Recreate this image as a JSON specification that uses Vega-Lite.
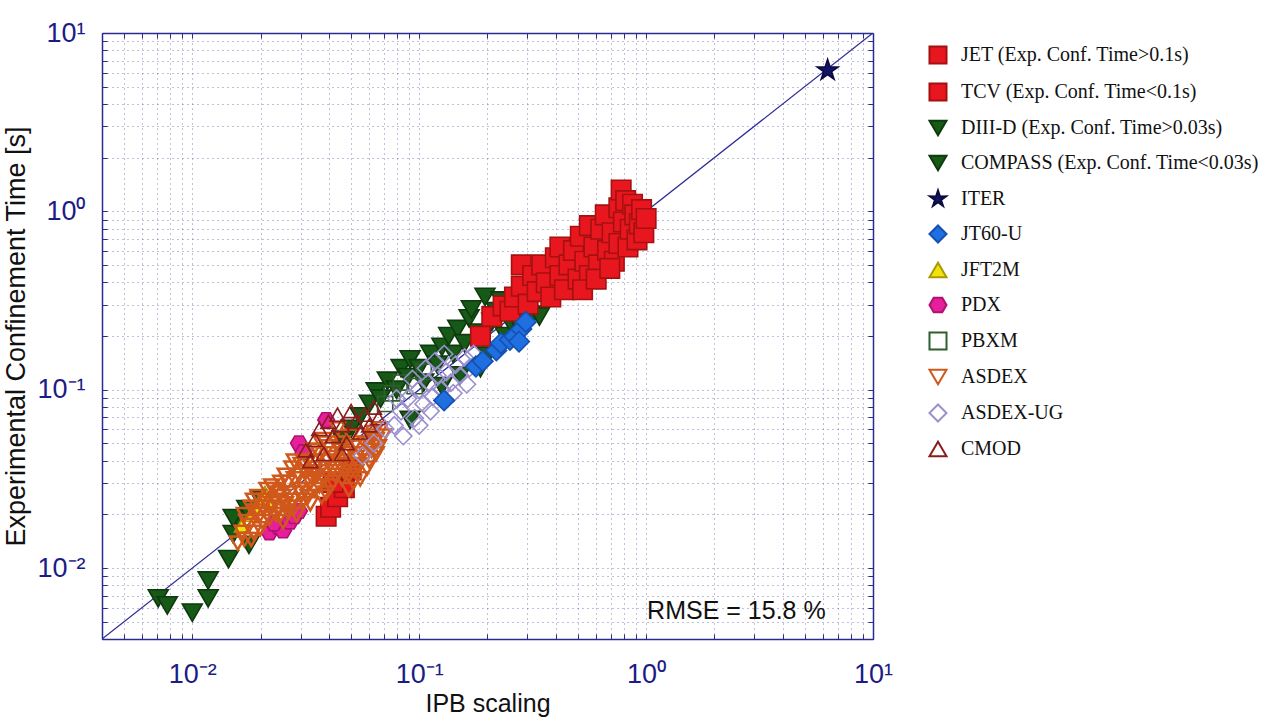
{
  "$schema": "https://vega.github.io/schema/vega-lite/v6.json",
  "width": 771,
  "height": 606,
  "autosize": {"type": "none"},
  "padding": {"left": 102, "top": 33, "right": 398, "bottom": 83},
  "background": "white",
  "config": {"view": {"stroke": null}, "font": "Liberation Sans"},
  "datasets": {
    "diag": [{"x": 0.004, "y": 0.004}, {"x": 10, "y": 10}],
    "note": [{"x": 2.5, "y": 0.00575, "label": "RMSE = 15.8 %"}],
    "pts": [
      {"device": "DIII-D (Exp. Conf. Time>0.03s)", "x": 0.0501, "y": 0.0603},
      {"device": "DIII-D (Exp. Conf. Time>0.03s)", "x": 0.0457, "y": 0.0525},
      {"device": "DIII-D (Exp. Conf. Time>0.03s)", "x": 0.055, "y": 0.0708},
      {"device": "DIII-D (Exp. Conf. Time>0.03s)", "x": 0.0603, "y": 0.0832},
      {"device": "DIII-D (Exp. Conf. Time>0.03s)", "x": 0.0646, "y": 0.0977},
      {"device": "DIII-D (Exp. Conf. Time>0.03s)", "x": 0.0676, "y": 0.0891},
      {"device": "DIII-D (Exp. Conf. Time>0.03s)", "x": 0.0724, "y": 0.1122},
      {"device": "DIII-D (Exp. Conf. Time>0.03s)", "x": 0.0794, "y": 0.1},
      {"device": "DIII-D (Exp. Conf. Time>0.03s)", "x": 0.0832, "y": 0.1318},
      {"device": "DIII-D (Exp. Conf. Time>0.03s)", "x": 0.0891, "y": 0.1175},
      {"device": "DIII-D (Exp. Conf. Time>0.03s)", "x": 0.0912, "y": 0.1479},
      {"device": "DIII-D (Exp. Conf. Time>0.03s)", "x": 0.1, "y": 0.1318},
      {"device": "DIII-D (Exp. Conf. Time>0.03s)", "x": 0.1047, "y": 0.1096},
      {"device": "DIII-D (Exp. Conf. Time>0.03s)", "x": 0.1122, "y": 0.1585},
      {"device": "DIII-D (Exp. Conf. Time>0.03s)", "x": 0.1202, "y": 0.138},
      {"device": "DIII-D (Exp. Conf. Time>0.03s)", "x": 0.1259, "y": 0.1738},
      {"device": "DIII-D (Exp. Conf. Time>0.03s)", "x": 0.1349, "y": 0.1995},
      {"device": "DIII-D (Exp. Conf. Time>0.03s)", "x": 0.1413, "y": 0.1585},
      {"device": "DIII-D (Exp. Conf. Time>0.03s)", "x": 0.1479, "y": 0.2188},
      {"device": "DIII-D (Exp. Conf. Time>0.03s)", "x": 0.1585, "y": 0.182},
      {"device": "DIII-D (Exp. Conf. Time>0.03s)", "x": 0.166, "y": 0.2512},
      {"device": "DIII-D (Exp. Conf. Time>0.03s)", "x": 0.1698, "y": 0.2818},
      {"device": "DIII-D (Exp. Conf. Time>0.03s)", "x": 0.182, "y": 0.2089},
      {"device": "DIII-D (Exp. Conf. Time>0.03s)", "x": 0.195, "y": 0.3311},
      {"device": "DIII-D (Exp. Conf. Time>0.03s)", "x": 0.1995, "y": 0.1549},
      {"device": "DIII-D (Exp. Conf. Time>0.03s)", "x": 0.2089, "y": 0.2399},
      {"device": "DIII-D (Exp. Conf. Time>0.03s)", "x": 0.2188, "y": 0.2754},
      {"device": "DIII-D (Exp. Conf. Time>0.03s)", "x": 0.2291, "y": 0.3162},
      {"device": "DIII-D (Exp. Conf. Time>0.03s)", "x": 0.2399, "y": 0.1995},
      {"device": "DIII-D (Exp. Conf. Time>0.03s)", "x": 0.2512, "y": 0.2399},
      {"device": "DIII-D (Exp. Conf. Time>0.03s)", "x": 0.2692, "y": 0.2512},
      {"device": "DIII-D (Exp. Conf. Time>0.03s)", "x": 0.2818, "y": 0.2188},
      {"device": "DIII-D (Exp. Conf. Time>0.03s)", "x": 0.302, "y": 0.2399},
      {"device": "DIII-D (Exp. Conf. Time>0.03s)", "x": 0.3162, "y": 0.263},
      {"device": "DIII-D (Exp. Conf. Time>0.03s)", "x": 0.3388, "y": 0.257},
      {"device": "DIII-D (Exp. Conf. Time>0.03s)", "x": 0.1862, "y": 0.1318},
      {"device": "DIII-D (Exp. Conf. Time>0.03s)", "x": 0.0912, "y": 0.0676},
      {"device": "DIII-D (Exp. Conf. Time>0.03s)", "x": 0.1259, "y": 0.1047},
      {"device": "DIII-D (Exp. Conf. Time>0.03s)", "x": 0.1514, "y": 0.1202},
      {"device": "COMPASS (Exp. Conf. Time<0.03s)", "x": 0.00708, "y": 0.00676},
      {"device": "COMPASS (Exp. Conf. Time<0.03s)", "x": 0.00776, "y": 0.00617},
      {"device": "COMPASS (Exp. Conf. Time<0.03s)", "x": 0.01, "y": 0.00562},
      {"device": "COMPASS (Exp. Conf. Time<0.03s)", "x": 0.01175, "y": 0.00851},
      {"device": "COMPASS (Exp. Conf. Time<0.03s)", "x": 0.01175, "y": 0.00676},
      {"device": "COMPASS (Exp. Conf. Time<0.03s)", "x": 0.01445, "y": 0.01122},
      {"device": "COMPASS (Exp. Conf. Time<0.03s)", "x": 0.01514, "y": 0.01549},
      {"device": "COMPASS (Exp. Conf. Time<0.03s)", "x": 0.01778, "y": 0.01349},
      {"device": "COMPASS (Exp. Conf. Time<0.03s)", "x": 0.01622, "y": 0.0182},
      {"device": "COMPASS (Exp. Conf. Time<0.03s)", "x": 0.01514, "y": 0.01905},
      {"device": "COMPASS (Exp. Conf. Time<0.03s)", "x": 0.01738, "y": 0.02138},
      {"device": "COMPASS (Exp. Conf. Time<0.03s)", "x": 0.01995, "y": 0.02399},
      {"device": "JET (Exp. Conf. Time>0.1s)", "x": 0.1862, "y": 0.1995},
      {"device": "JET (Exp. Conf. Time>0.1s)", "x": 0.2089, "y": 0.257},
      {"device": "JET (Exp. Conf. Time>0.1s)", "x": 0.2344, "y": 0.2951},
      {"device": "JET (Exp. Conf. Time>0.1s)", "x": 0.2512, "y": 0.2754},
      {"device": "JET (Exp. Conf. Time>0.1s)", "x": 0.263, "y": 0.3311},
      {"device": "JET (Exp. Conf. Time>0.1s)", "x": 0.2818, "y": 0.5012},
      {"device": "JET (Exp. Conf. Time>0.1s)", "x": 0.2818, "y": 0.3802},
      {"device": "JET (Exp. Conf. Time>0.1s)", "x": 0.302, "y": 0.302},
      {"device": "JET (Exp. Conf. Time>0.1s)", "x": 0.3162, "y": 0.4365},
      {"device": "JET (Exp. Conf. Time>0.1s)", "x": 0.3311, "y": 0.3548},
      {"device": "JET (Exp. Conf. Time>0.1s)", "x": 0.3467, "y": 0.5012},
      {"device": "JET (Exp. Conf. Time>0.1s)", "x": 0.3631, "y": 0.3981},
      {"device": "JET (Exp. Conf. Time>0.1s)", "x": 0.3802, "y": 0.3311},
      {"device": "JET (Exp. Conf. Time>0.1s)", "x": 0.3981, "y": 0.5495},
      {"device": "JET (Exp. Conf. Time>0.1s)", "x": 0.4169, "y": 0.631},
      {"device": "JET (Exp. Conf. Time>0.1s)", "x": 0.4169, "y": 0.4365},
      {"device": "JET (Exp. Conf. Time>0.1s)", "x": 0.4365, "y": 0.3631},
      {"device": "JET (Exp. Conf. Time>0.1s)", "x": 0.4571, "y": 0.5012},
      {"device": "JET (Exp. Conf. Time>0.1s)", "x": 0.4786, "y": 0.6026},
      {"device": "JET (Exp. Conf. Time>0.1s)", "x": 0.5012, "y": 0.4169},
      {"device": "JET (Exp. Conf. Time>0.1s)", "x": 0.5129, "y": 0.7244},
      {"device": "JET (Exp. Conf. Time>0.1s)", "x": 0.537, "y": 0.5248},
      {"device": "JET (Exp. Conf. Time>0.1s)", "x": 0.5623, "y": 0.8318},
      {"device": "JET (Exp. Conf. Time>0.1s)", "x": 0.5623, "y": 0.4365},
      {"device": "JET (Exp. Conf. Time>0.1s)", "x": 0.5888, "y": 0.631},
      {"device": "JET (Exp. Conf. Time>0.1s)", "x": 0.6166, "y": 0.5012},
      {"device": "JET (Exp. Conf. Time>0.1s)", "x": 0.631, "y": 0.7943},
      {"device": "JET (Exp. Conf. Time>0.1s)", "x": 0.6607, "y": 0.955},
      {"device": "JET (Exp. Conf. Time>0.1s)", "x": 0.6761, "y": 0.6026},
      {"device": "JET (Exp. Conf. Time>0.1s)", "x": 0.7079, "y": 0.7586},
      {"device": "JET (Exp. Conf. Time>0.1s)", "x": 0.7244, "y": 0.5248},
      {"device": "JET (Exp. Conf. Time>0.1s)", "x": 0.7586, "y": 1.047},
      {"device": "JET (Exp. Conf. Time>0.1s)", "x": 0.7586, "y": 0.6607},
      {"device": "JET (Exp. Conf. Time>0.1s)", "x": 0.7762, "y": 1.318},
      {"device": "JET (Exp. Conf. Time>0.1s)", "x": 0.7943, "y": 0.871},
      {"device": "JET (Exp. Conf. Time>0.1s)", "x": 0.8128, "y": 1.148},
      {"device": "JET (Exp. Conf. Time>0.1s)", "x": 0.8318, "y": 0.631},
      {"device": "JET (Exp. Conf. Time>0.1s)", "x": 0.8511, "y": 0.7943},
      {"device": "JET (Exp. Conf. Time>0.1s)", "x": 0.871, "y": 1.096},
      {"device": "JET (Exp. Conf. Time>0.1s)", "x": 0.8913, "y": 0.955},
      {"device": "JET (Exp. Conf. Time>0.1s)", "x": 0.912, "y": 0.6918},
      {"device": "JET (Exp. Conf. Time>0.1s)", "x": 0.9333, "y": 0.8511},
      {"device": "JET (Exp. Conf. Time>0.1s)", "x": 0.955, "y": 1.023},
      {"device": "JET (Exp. Conf. Time>0.1s)", "x": 0.9772, "y": 0.7586},
      {"device": "JET (Exp. Conf. Time>0.1s)", "x": 1.0, "y": 0.912},
      {"device": "JET (Exp. Conf. Time>0.1s)", "x": 0.5248, "y": 0.3631},
      {"device": "JET (Exp. Conf. Time>0.1s)", "x": 0.6026, "y": 0.4169},
      {"device": "JET (Exp. Conf. Time>0.1s)", "x": 0.6918, "y": 0.4786},
      {"device": "TCV (Exp. Conf. Time<0.1s)", "x": 0.0389, "y": 0.0195},
      {"device": "TCV (Exp. Conf. Time<0.1s)", "x": 0.0407, "y": 0.0219},
      {"device": "TCV (Exp. Conf. Time<0.1s)", "x": 0.0437, "y": 0.0251},
      {"device": "TCV (Exp. Conf. Time<0.1s)", "x": 0.0468, "y": 0.0282},
      {"device": "TCV (Exp. Conf. Time<0.1s)", "x": 0.0417, "y": 0.0302},
      {"device": "TCV (Exp. Conf. Time<0.1s)", "x": 0.0501, "y": 0.0355},
      {"device": "PDX", "x": 0.02188, "y": 0.01585},
      {"device": "PDX", "x": 0.02399, "y": 0.01698},
      {"device": "PDX", "x": 0.02512, "y": 0.01622},
      {"device": "PDX", "x": 0.02692, "y": 0.0182},
      {"device": "PDX", "x": 0.02818, "y": 0.0195},
      {"device": "PDX", "x": 0.02951, "y": 0.02089},
      {"device": "PDX", "x": 0.02951, "y": 0.05012},
      {"device": "PDX", "x": 0.0309, "y": 0.04467},
      {"device": "PDX", "x": 0.0389, "y": 0.06761},
      {"device": "PDX", "x": 0.02291, "y": 0.01778},
      {"device": "JFT2M", "x": 0.0166, "y": 0.01738},
      {"device": "JFT2M", "x": 0.0182, "y": 0.01995},
      {"device": "JFT2M", "x": 0.01905, "y": 0.02188},
      {"device": "JFT2M", "x": 0.01995, "y": 0.02399},
      {"device": "JFT2M", "x": 0.02089, "y": 0.0263},
      {"device": "JFT2M", "x": 0.02188, "y": 0.02399},
      {"device": "PBXM", "x": 0.07586, "y": 0.0955},
      {"device": "PBXM", "x": 0.08318, "y": 0.1096},
      {"device": "PBXM", "x": 0.0955, "y": 0.1047},
      {"device": "PBXM", "x": 0.1047, "y": 0.1259},
      {"device": "PBXM", "x": 0.07079, "y": 0.08318},
      {"device": "ASDEX", "x": 0.01585, "y": 0.0138},
      {"device": "ASDEX", "x": 0.0166, "y": 0.01585},
      {"device": "ASDEX", "x": 0.01738, "y": 0.0182},
      {"device": "ASDEX", "x": 0.0182, "y": 0.01445},
      {"device": "ASDEX", "x": 0.01905, "y": 0.02089},
      {"device": "ASDEX", "x": 0.01995, "y": 0.0166},
      {"device": "ASDEX", "x": 0.02089, "y": 0.02399},
      {"device": "ASDEX", "x": 0.02188, "y": 0.01905},
      {"device": "ASDEX", "x": 0.02291, "y": 0.02754},
      {"device": "ASDEX", "x": 0.02399, "y": 0.02188},
      {"device": "ASDEX", "x": 0.02512, "y": 0.0182},
      {"device": "ASDEX", "x": 0.0263, "y": 0.0302},
      {"device": "ASDEX", "x": 0.02754, "y": 0.02399},
      {"device": "ASDEX", "x": 0.02884, "y": 0.01995},
      {"device": "ASDEX", "x": 0.0302, "y": 0.03802},
      {"device": "ASDEX", "x": 0.03162, "y": 0.02754},
      {"device": "ASDEX", "x": 0.03311, "y": 0.02291},
      {"device": "ASDEX", "x": 0.03388, "y": 0.04571},
      {"device": "ASDEX", "x": 0.03548, "y": 0.03311},
      {"device": "ASDEX", "x": 0.03715, "y": 0.02512},
      {"device": "ASDEX", "x": 0.03802, "y": 0.05248},
      {"device": "ASDEX", "x": 0.03981, "y": 0.03981},
      {"device": "ASDEX", "x": 0.04169, "y": 0.0302},
      {"device": "ASDEX", "x": 0.04365, "y": 0.06026},
      {"device": "ASDEX", "x": 0.04467, "y": 0.04571},
      {"device": "ASDEX", "x": 0.04677, "y": 0.03467},
      {"device": "ASDEX", "x": 0.04898, "y": 0.02754},
      {"device": "ASDEX", "x": 0.05012, "y": 0.05495},
      {"device": "ASDEX", "x": 0.05248, "y": 0.04169},
      {"device": "ASDEX", "x": 0.05495, "y": 0.03162},
      {"device": "ASDEX", "x": 0.05754, "y": 0.05012},
      {"device": "ASDEX", "x": 0.06026, "y": 0.03981},
      {"device": "ASDEX", "x": 0.0631, "y": 0.05754},
      {"device": "ASDEX", "x": 0.06607, "y": 0.04786},
      {"device": "ASDEX", "x": 0.06761, "y": 0.06026},
      {"device": "ASDEX", "x": 0.02512, "y": 0.02512},
      {"device": "ASDEX", "x": 0.02818, "y": 0.03162},
      {"device": "ASDEX", "x": 0.03162, "y": 0.03467},
      {"device": "ASDEX", "x": 0.03548, "y": 0.03981},
      {"device": "ASDEX", "x": 0.03981, "y": 0.04786},
      {"device": "ASDEX", "x": 0.04467, "y": 0.03802},
      {"device": "ASDEX", "x": 0.02239, "y": 0.02291},
      {"device": "ASDEX", "x": 0.01995, "y": 0.01995},
      {"device": "ASDEX", "x": 0.01778, "y": 0.01738},
      {"device": "ASDEX", "x": 0.0263, "y": 0.02089},
      {"device": "ASDEX", "x": 0.03311, "y": 0.0302},
      {"device": "ASDEX", "x": 0.04169, "y": 0.03631},
      {"device": "ASDEX", "x": 0.05248, "y": 0.03467},
      {"device": "ASDEX", "x": 0.05623, "y": 0.04365},
      {"device": "ASDEX", "x": 0.02399, "y": 0.0263},
      {"device": "ASDEX", "x": 0.0302, "y": 0.0263},
      {"device": "ASDEX", "x": 0.03802, "y": 0.03162},
      {"device": "ASDEX", "x": 0.04786, "y": 0.04365},
      {"device": "ASDEX", "x": 0.06026, "y": 0.05012},
      {"device": "ASDEX", "x": 0.03467, "y": 0.02754},
      {"device": "ASDEX", "x": 0.02754, "y": 0.03631},
      {"device": "ASDEX", "x": 0.02188, "y": 0.02188},
      {"device": "ASDEX", "x": 0.04571, "y": 0.03162},
      {"device": "ASDEX", "x": 0.03631, "y": 0.04365},
      {"device": "ASDEX", "x": 0.01698, "y": 0.01995},
      {"device": "ASDEX", "x": 0.01862, "y": 0.02399},
      {"device": "ASDEX", "x": 0.02042, "y": 0.0182},
      {"device": "ASDEX", "x": 0.02138, "y": 0.02754},
      {"device": "ASDEX", "x": 0.02344, "y": 0.01995},
      {"device": "ASDEX", "x": 0.02455, "y": 0.0302},
      {"device": "ASDEX", "x": 0.02692, "y": 0.0263},
      {"device": "ASDEX", "x": 0.02818, "y": 0.02188},
      {"device": "ASDEX", "x": 0.02951, "y": 0.03311},
      {"device": "ASDEX", "x": 0.0309, "y": 0.02399},
      {"device": "ASDEX", "x": 0.03236, "y": 0.03981},
      {"device": "ASDEX", "x": 0.03388, "y": 0.03162},
      {"device": "ASDEX", "x": 0.03631, "y": 0.02884},
      {"device": "ASDEX", "x": 0.03715, "y": 0.03631},
      {"device": "ASDEX", "x": 0.0389, "y": 0.0263},
      {"device": "ASDEX", "x": 0.04074, "y": 0.04365},
      {"device": "ASDEX", "x": 0.04266, "y": 0.03311},
      {"device": "ASDEX", "x": 0.04571, "y": 0.05012},
      {"device": "ASDEX", "x": 0.04786, "y": 0.038},
      {"device": "ASDEX", "x": 0.05129, "y": 0.0302},
      {"device": "ASDEX", "x": 0.0537, "y": 0.04786},
      {"device": "ASDEX", "x": 0.05888, "y": 0.03631},
      {"device": "ASDEX", "x": 0.06166, "y": 0.04571},
      {"device": "ASDEX", "x": 0.06457, "y": 0.05248},
      {"device": "ASDEX", "x": 0.06918, "y": 0.05495},
      {"device": "ASDEX", "x": 0.0257, "y": 0.02291},
      {"device": "ASDEX", "x": 0.03467, "y": 0.03631},
      {"device": "ASDEX", "x": 0.04365, "y": 0.05012},
      {"device": "ASDEX", "x": 0.0182, "y": 0.02188},
      {"device": "ASDEX", "x": 0.0195, "y": 0.02512},
      {"device": "ASDEX", "x": 0.02042, "y": 0.02188},
      {"device": "ASDEX", "x": 0.02239, "y": 0.02884},
      {"device": "ASDEX", "x": 0.02344, "y": 0.02399},
      {"device": "ASDEX", "x": 0.02455, "y": 0.01995},
      {"device": "ASDEX", "x": 0.0257, "y": 0.03311},
      {"device": "ASDEX", "x": 0.02692, "y": 0.02188},
      {"device": "ASDEX", "x": 0.02951, "y": 0.02754},
      {"device": "ASDEX", "x": 0.0309, "y": 0.03981},
      {"device": "ASDEX", "x": 0.03236, "y": 0.02512},
      {"device": "ASDEX", "x": 0.03388, "y": 0.03467},
      {"device": "ASDEX", "x": 0.03548, "y": 0.04571},
      {"device": "ASDEX", "x": 0.0389, "y": 0.03467},
      {"device": "ASDEX", "x": 0.04074, "y": 0.02884},
      {"device": "ASDEX", "x": 0.04266, "y": 0.04169},
      {"device": "ASDEX", "x": 0.04677, "y": 0.03981},
      {"device": "ASDEX", "x": 0.04898, "y": 0.03311},
      {"device": "ASDEX", "x": 0.05129, "y": 0.04786},
      {"device": "ASDEX", "x": 0.0537, "y": 0.038},
      {"device": "ASDEX", "x": 0.05888, "y": 0.04365},
      {"device": "ASDEX", "x": 0.06166, "y": 0.05495},
      {"device": "ASDEX", "x": 0.06457, "y": 0.04365},
      {"device": "ASDEX", "x": 0.02818, "y": 0.03981},
      {"device": "ASDEX", "x": 0.03715, "y": 0.05012},
      {"device": "ASDEX", "x": 0.02138, "y": 0.01995},
      {"device": "ASDEX", "x": 0.01862, "y": 0.01585},
      {"device": "ASDEX", "x": 0.01698, "y": 0.01445},
      {"device": "CMOD", "x": 0.03162, "y": 0.04571},
      {"device": "CMOD", "x": 0.03467, "y": 0.05248},
      {"device": "CMOD", "x": 0.03631, "y": 0.06026},
      {"device": "CMOD", "x": 0.03802, "y": 0.04365},
      {"device": "CMOD", "x": 0.03981, "y": 0.06607},
      {"device": "CMOD", "x": 0.04169, "y": 0.05495},
      {"device": "CMOD", "x": 0.04365, "y": 0.07244},
      {"device": "CMOD", "x": 0.04571, "y": 0.0631},
      {"device": "CMOD", "x": 0.04786, "y": 0.05012},
      {"device": "CMOD", "x": 0.05012, "y": 0.07586},
      {"device": "CMOD", "x": 0.05248, "y": 0.06607},
      {"device": "CMOD", "x": 0.05495, "y": 0.05754},
      {"device": "CMOD", "x": 0.05754, "y": 0.07244},
      {"device": "CMOD", "x": 0.06026, "y": 0.0631},
      {"device": "CMOD", "x": 0.0631, "y": 0.07943},
      {"device": "CMOD", "x": 0.06607, "y": 0.06918},
      {"device": "CMOD", "x": 0.03311, "y": 0.03981},
      {"device": "CMOD", "x": 0.04571, "y": 0.04365},
      {"device": "ASDEX-UG", "x": 0.05623, "y": 0.04266},
      {"device": "ASDEX-UG", "x": 0.0631, "y": 0.05012},
      {"device": "ASDEX-UG", "x": 0.07079, "y": 0.06026},
      {"device": "ASDEX-UG", "x": 0.08511, "y": 0.05495},
      {"device": "ASDEX-UG", "x": 0.07762, "y": 0.0631},
      {"device": "ASDEX-UG", "x": 0.08318, "y": 0.07586},
      {"device": "ASDEX-UG", "x": 0.08913, "y": 0.08913},
      {"device": "ASDEX-UG", "x": 0.0955, "y": 0.06918},
      {"device": "ASDEX-UG", "x": 0.1, "y": 0.1},
      {"device": "ASDEX-UG", "x": 0.1047, "y": 0.08318},
      {"device": "ASDEX-UG", "x": 0.1096, "y": 0.1096},
      {"device": "ASDEX-UG", "x": 0.1148, "y": 0.0912},
      {"device": "ASDEX-UG", "x": 0.1202, "y": 0.1202},
      {"device": "ASDEX-UG", "x": 0.1259, "y": 0.1},
      {"device": "ASDEX-UG", "x": 0.1318, "y": 0.1259},
      {"device": "ASDEX-UG", "x": 0.138, "y": 0.1096},
      {"device": "ASDEX-UG", "x": 0.1445, "y": 0.138},
      {"device": "ASDEX-UG", "x": 0.1514, "y": 0.1202},
      {"device": "ASDEX-UG", "x": 0.1585, "y": 0.1514},
      {"device": "ASDEX-UG", "x": 0.166, "y": 0.1318},
      {"device": "ASDEX-UG", "x": 0.1738, "y": 0.1585},
      {"device": "ASDEX-UG", "x": 0.09333, "y": 0.1148},
      {"device": "ASDEX-UG", "x": 0.1072, "y": 0.1318},
      {"device": "ASDEX-UG", "x": 0.1175, "y": 0.1445},
      {"device": "ASDEX-UG", "x": 0.1288, "y": 0.1585},
      {"device": "ASDEX-UG", "x": 0.07943, "y": 0.08913},
      {"device": "ASDEX-UG", "x": 0.1622, "y": 0.1072},
      {"device": "ASDEX-UG", "x": 0.1413, "y": 0.0955},
      {"device": "ASDEX-UG", "x": 0.1122, "y": 0.07586},
      {"device": "ASDEX-UG", "x": 0.1, "y": 0.0631},
      {"device": "JT60-U", "x": 0.1288, "y": 0.0871},
      {"device": "JT60-U", "x": 0.1778, "y": 0.1349},
      {"device": "JT60-U", "x": 0.1905, "y": 0.1445},
      {"device": "JT60-U", "x": 0.2188, "y": 0.166},
      {"device": "JT60-U", "x": 0.2291, "y": 0.182},
      {"device": "JT60-U", "x": 0.2512, "y": 0.1905},
      {"device": "JT60-U", "x": 0.263, "y": 0.1995},
      {"device": "JT60-U", "x": 0.2818, "y": 0.2188},
      {"device": "JT60-U", "x": 0.2951, "y": 0.2399},
      {"device": "JT60-U", "x": 0.2754, "y": 0.1862},
      {"device": "ITER", "x": 6.31, "y": 6.17}
    ]
  },
  "resolve": {"axis": {"x": "independent", "y": "independent"}},
  "layer": [
    {
      "data": {"name": "diag"},
      "mark": {"type": "line", "color": "#2e2e9a", "strokeWidth": 1.3, "clip": true},
      "encoding": {
        "x": {
          "field": "x", "type": "quantitative",
          "scale": {"type": "log", "domain": [0.004, 10], "nice": false},
          "axis": {
            "orient": "bottom",
            "values": [0.004, 0.005, 0.006, 0.007, 0.008, 0.009, 0.01, 0.02, 0.03, 0.04, 0.05, 0.06, 0.07, 0.08, 0.09, 0.1, 0.2, 0.3, 0.4, 0.5, 0.6, 0.7, 0.8, 0.9, 1, 2, 3, 4, 5, 6, 7, 8, 9, 10],
            "labelExpr": "datum.value==0.01?'10⁻²':datum.value==0.1?'10⁻¹':datum.value==1?'10⁰':datum.value==10?'10¹':''",
            "labelOverlap": false, "labelFlush": false,
            "labelFont": "Liberation Sans", "labelFontSize": 27, "labelColor": "#1c1c86", "labelPadding": 27,
            "grid": true, "gridDash": [1, 4], "gridColor": "#4a4a9a", "gridOpacity": 0.7,
            "domainColor": "#2b2b8f", "domainWidth": 1.5, "tickColor": "#2b2b8f", "tickSize": -5,
            "title": "IPB scaling", "titleFont": "Liberation Sans", "titleFontSize": 25, "titleFontWeight": "normal", "titleColor": "#111", "titlePadding": 4
          }
        },
        "y": {
          "field": "y", "type": "quantitative",
          "scale": {"type": "log", "domain": [0.004, 10], "nice": false},
          "axis": {
            "orient": "left",
            "values": [0.004, 0.005, 0.006, 0.007, 0.008, 0.009, 0.01, 0.02, 0.03, 0.04, 0.05, 0.06, 0.07, 0.08, 0.09, 0.1, 0.2, 0.3, 0.4, 0.5, 0.6, 0.7, 0.8, 0.9, 1, 2, 3, 4, 5, 6, 7, 8, 9, 10],
            "labelExpr": "datum.value==0.01?'10⁻²':datum.value==0.1?'10⁻¹':datum.value==1?'10⁰':datum.value==10?'10¹':''",
            "labelOverlap": false, "labelFlush": false,
            "labelFont": "Liberation Sans", "labelFontSize": 27, "labelColor": "#1c1c86", "labelPadding": 22,
            "grid": true, "gridDash": [1, 4], "gridColor": "#4a4a9a", "gridOpacity": 0.7,
            "domainColor": "#2b2b8f", "domainWidth": 1.5, "tickColor": "#2b2b8f", "tickSize": -5,
            "title": "Experimental Confinement Time [s]", "titleFont": "Liberation Sans", "titleFontSize": 27, "titleFontWeight": "normal", "titleColor": "#111", "titlePadding": 6
          }
        }
      }
    },
    {
      "data": {"name": "pts"},
      "mark": {"type": "point", "filled": true, "opacity": 1},
      "encoding": {
        "x": {
          "field": "x", "type": "quantitative",
          "scale": {"type": "log", "domain": [0.004, 10], "nice": false},
          "axis": {"orient": "top", "labels": false, "grid": false, "title": null,
            "values": [0.004, 0.005, 0.006, 0.007, 0.008, 0.009, 0.01, 0.02, 0.03, 0.04, 0.05, 0.06, 0.07, 0.08, 0.09, 0.1, 0.2, 0.3, 0.4, 0.5, 0.6, 0.7, 0.8, 0.9, 1, 2, 3, 4, 5, 6, 7, 8, 9, 10],
            "domainColor": "#2b2b8f", "domainWidth": 1.5, "tickColor": "#2b2b8f", "tickSize": -5}
        },
        "y": {
          "field": "y", "type": "quantitative",
          "scale": {"type": "log", "domain": [0.004, 10], "nice": false},
          "axis": {"orient": "right", "labels": false, "grid": false, "title": null,
            "values": [0.004, 0.005, 0.006, 0.007, 0.008, 0.009, 0.01, 0.02, 0.03, 0.04, 0.05, 0.06, 0.07, 0.08, 0.09, 0.1, 0.2, 0.3, 0.4, 0.5, 0.6, 0.7, 0.8, 0.9, 1, 2, 3, 4, 5, 6, 7, 8, 9, 10],
            "domainColor": "#2b2b8f", "domainWidth": 1.5, "tickColor": "#2b2b8f", "tickSize": -5}
        },
        "shape": {
          "field": "device", "type": "nominal", "title": null,
          "scale": {
            "domain": ["JET (Exp. Conf. Time>0.1s)", "TCV (Exp. Conf. Time<0.1s)", "DIII-D (Exp. Conf. Time>0.03s)", "COMPASS (Exp. Conf. Time<0.03s)", "ITER", "JT60-U", "JFT2M", "PDX", "PBXM", "ASDEX", "ASDEX-UG", "CMOD"],
            "range": ["square", "square", "triangle-down", "triangle-down", "M0,-1L0.223,-0.307L0.951,-0.309L0.361,0.117L0.588,0.809L0,0.38L-0.588,0.809L-0.361,0.117L-0.951,-0.309L-0.223,-0.307Z", "diamond", "triangle-up", "M-1,0L-0.5,-0.866L0.5,-0.866L1,0L0.5,0.866L-0.5,0.866Z", "square", "triangle-down", "diamond", "triangle-up"]
          },
          "legend": {
            "orient": "none", "legendX": 826, "legendY": 12,
            "labelFont": "Liberation Serif", "labelFontSize": 20, "labelColor": "#111",
            "symbolSize": 290, "symbolStrokeWidth": 2, "rowPadding": 11, "labelOffset": 13, "labelLimit": 400
          }
        },
        "fill": {
          "field": "device", "type": "nominal", "title": null,
          "scale": {
            "domain": ["JET (Exp. Conf. Time>0.1s)", "TCV (Exp. Conf. Time<0.1s)", "DIII-D (Exp. Conf. Time>0.03s)", "COMPASS (Exp. Conf. Time<0.03s)", "ITER", "JT60-U", "JFT2M", "PDX", "PBXM", "ASDEX", "ASDEX-UG", "CMOD"],
            "range": ["#e8171f", "#e8171f", "#175a17", "#175a17", "#141465", "#1f6fe0", "#f2e20e", "#e81f9a", "transparent", "transparent", "transparent", "transparent"]
          }
        },
        "stroke": {
          "field": "device", "type": "nominal", "title": null,
          "scale": {
            "domain": ["JET (Exp. Conf. Time>0.1s)", "TCV (Exp. Conf. Time<0.1s)", "DIII-D (Exp. Conf. Time>0.03s)", "COMPASS (Exp. Conf. Time<0.03s)", "ITER", "JT60-U", "JFT2M", "PDX", "PBXM", "ASDEX", "ASDEX-UG", "CMOD"],
            "range": ["#a51010", "#a51010", "#0e3a0e", "#0e3a0e", "#0a0a40", "#1550b0", "#a89a00", "#b01070", "#2f5e2f", "#d0581a", "#9c8fce", "#8a1c1c"]
          }
        },
        "size": {
          "condition": [
            {"test": "datum.device=='ITER'", "value": 480},
            {"test": "datum.device=='JET (Exp. Conf. Time>0.1s)'||datum.device=='TCV (Exp. Conf. Time<0.1s)'", "value": 380},
            {"test": "datum.device=='DIII-D (Exp. Conf. Time>0.03s)'||datum.device=='COMPASS (Exp. Conf. Time<0.03s)'", "value": 400},
            {"test": "datum.device=='JT60-U'", "value": 420},
            {"test": "datum.device=='ASDEX-UG'", "value": 300},
            {"test": "datum.device=='PDX'", "value": 280},
            {"test": "datum.device=='JFT2M'", "value": 240}
          ],
          "value": 230
        },
        "strokeWidth": {
          "condition": {"test": "datum.device=='ASDEX'", "value": 2.5},
          "value": 1.6
        }
      }
    },
    {
      "data": {"name": "note"},
      "mark": {"type": "text", "font": "Liberation Sans", "fontSize": 25, "color": "#111"},
      "encoding": {
        "x": {"field": "x", "type": "quantitative", "scale": {"type": "log", "domain": [0.004, 10], "nice": false}, "axis": null},
        "y": {"field": "y", "type": "quantitative", "scale": {"type": "log", "domain": [0.004, 10], "nice": false}, "axis": null},
        "text": {"field": "label"}
      }
    }
  ]
}
